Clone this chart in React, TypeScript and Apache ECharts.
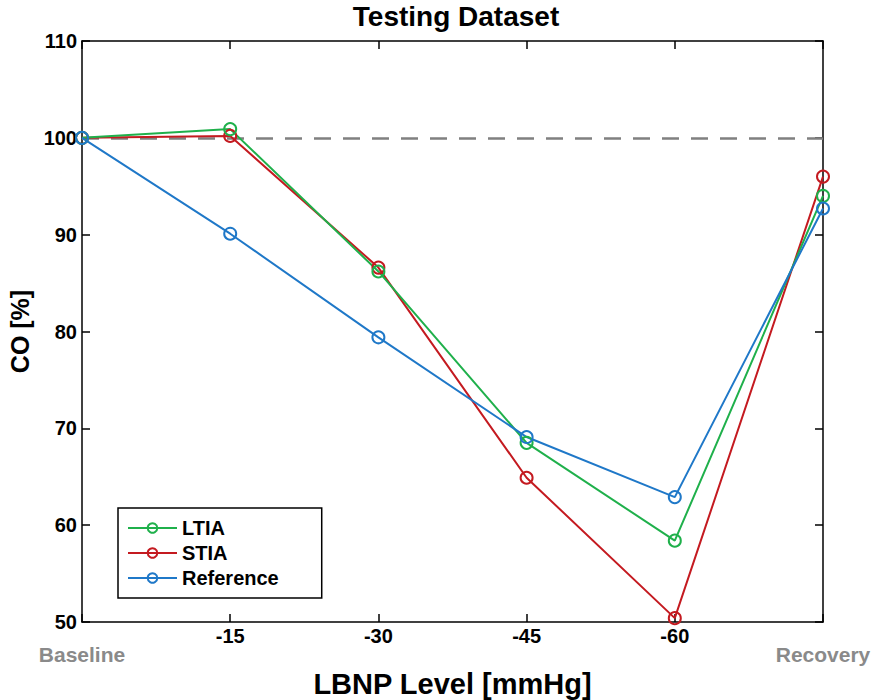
import React, { useEffect, useRef } from "react";
import * as echarts from "echarts";

const categories = ["Baseline", "-15", "-30", "-45", "-60", "Recovery"];
const ltia = [100, 100.9, 86.2, 68.5, 58.4, 94.0];
const stia = [100, 100.2, 86.6, 64.9, 50.4, 96.0];
const reference = [100, 90.1, 79.4, 69.1, 62.9, 92.7];
const yTicks = { min: 50, max: 110, interval: 10 };
const dashLevel = 100;

const FONT = "'Liberation Sans', Arial, Helvetica, sans-serif";
const GREEN = "#1fb04b";
const RED = "#c41a20";
const BLUE = "#1f78c8";

export default function App() {
  const ref = useRef<HTMLDivElement>(null);
  useEffect(() => {
    if (!ref.current) return;
    const chart = echarts.init(ref.current, undefined, { renderer: "svg" });
    const lineSeries = (name: string, data: number[], color: string, extra: any = {}) => ({
      name,
      type: "line",
      data,
      xAxisIndex: 0,
      yAxisIndex: 0,
      symbol: "circle",
      symbolSize: 12,
      showAllSymbol: true,
      lineStyle: { color, width: 2 },
      itemStyle: { color: "transparent", borderColor: color, borderWidth: 2 },
      emphasis: { disabled: true },
      ...extra,
    });
    const tickStyle = { show: true, inside: true, length: 8, lineStyle: { color: "#000", width: 1.5 } };
    const lineStyle = { show: true, lineStyle: { color: "#000", width: 1.5 } };
    chart.setOption({
      animation: false,
      backgroundColor: "#fff",
      title: {
        text: "Testing Dataset",
        left: 451,
        textAlign: "center",
        top: -3,
        textStyle: { fontFamily: FONT, fontWeight: "bold", fontSize: 28, color: "#000" },
      },
      grid: { left: 82, right: 50, top: 41, bottom: 78, containLabel: false, outerBoundsMode: "none" },
      legend: {
        data: ["LTIA", "STIA", "Reference"],
        orient: "vertical",
        left: 118,
        top: 508,
        itemWidth: 49,
        itemHeight: 12,
        itemGap: 5,
        padding: [10, 43, 10, 9],
        borderColor: "#000",
        borderWidth: 1.5,
        backgroundColor: "#fff",
        textStyle: { fontFamily: FONT, fontWeight: "bold", fontSize: 20, color: "#000" },
      },
      xAxis: [
        {
          type: "category",
          data: categories,
          boundaryGap: false,
          position: "bottom",
          name: "LBNP Level [mmHg]",
          nameLocation: "middle",
          nameGap: 44,
          nameTextStyle: { fontFamily: FONT, fontWeight: "bold", fontSize: 29, color: "#000" },
          axisLine: lineStyle,
          axisTick: { ...tickStyle, alignWithLabel: true },
          splitLine: { show: false },
          axisLabel: {
            interval: 0,
            margin: 4,
            formatter: (v: string) => (v === "Baseline" || v === "Recovery" ? `{g|${v}}` : `{b|${v}}`),
            rich: {
              b: { fontFamily: FONT, fontWeight: "bold", fontSize: 20, color: "#000" },
              g: { fontFamily: FONT, fontWeight: "bold", fontSize: 21, color: "#8a8a8a", padding: [18, 0, 0, 0] },
            },
          },
        },
        {
          type: "category",
          data: categories,
          boundaryGap: false,
          position: "top",
          axisLine: lineStyle,
          axisTick: { ...tickStyle, alignWithLabel: true },
          axisLabel: { show: false },
          splitLine: { show: false },
        },
      ],
      yAxis: [
        {
          type: "value",
          ...yTicks,
          position: "left",
          name: "CO [%]",
          nameLocation: "middle",
          nameGap: 50,
          nameTextStyle: { fontFamily: FONT, fontWeight: "bold", fontSize: 25, color: "#000" },
          axisLine: lineStyle,
          axisTick: tickStyle,
          splitLine: { show: false },
          axisLabel: { margin: 5, fontFamily: FONT, fontWeight: "bold", fontSize: 20, color: "#000" },
        },
        {
          type: "value",
          ...yTicks,
          position: "right",
          axisLine: lineStyle,
          axisTick: tickStyle,
          axisLabel: { show: false },
          splitLine: { show: false },
        },
      ],
      series: [
        lineSeries("STIA", stia, RED, {
          markLine: {
            silent: true,
            symbol: ["none", "none"],
            label: { show: false },
            lineStyle: { color: "#808080", type: [17, 12], width: 2.5 },
            data: [{ yAxis: dashLevel }],
            z: 1,
          },
        }),
        lineSeries("LTIA", ltia, GREEN),
        lineSeries("Reference", reference, BLUE),
      ],
    });
    return () => chart.dispose();
  }, []);
  return <div ref={ref} style={{ position: "absolute", left: 0, top: 0, width: 873, height: 700 }} />;
}
